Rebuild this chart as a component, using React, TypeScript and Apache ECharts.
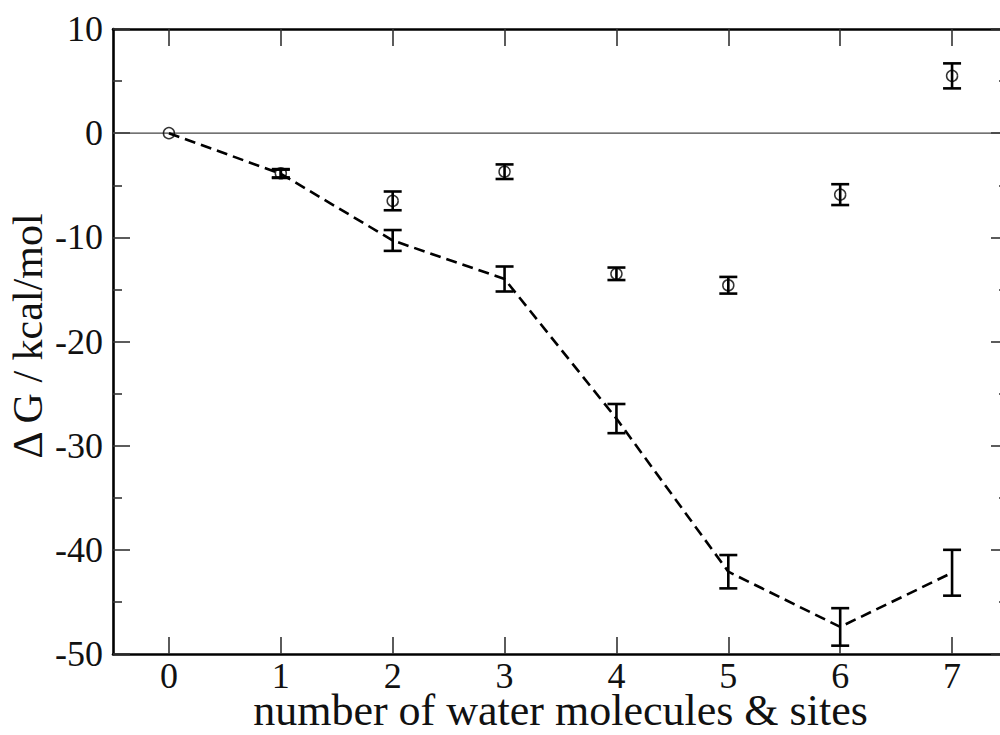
import React, { useEffect, useRef } from "react";
import * as echarts from "echarts";

const xValues = [0, 1, 2, 3, 4, 5, 6, 7];
const dashedValues = [0, -3.9, -10.3, -14.0, -27.4, -42.1, -47.4, -42.2];
const dashedErrors = [0, 0.4, 1.0, 1.2, 1.4, 1.6, 1.8, 2.2];
const circleValues = [0, -3.85, -6.5, -3.7, -13.5, -14.6, -5.9, 5.5];
const circleErrors = [0, 0.4, 0.9, 0.7, 0.6, 0.8, 1.0, 1.2];
const xTicks = [0, 1, 2, 3, 4, 5, 6, 7];
const yTicks = [10, 0, -10, -20, -30, -40, -50];
const xTitle = "number of water molecules & sites";
const yTitle = "Δ G / kcal/mol";

const FONT = "'Liberation Serif', 'Times New Roman', serif";

export default function App() {
  const ref = useRef<HTMLDivElement>(null);
  useEffect(() => {
    if (!ref.current) return;
    document.body.style.margin = "0";
    document.body.style.overflow = "hidden";
    const chart = echarts.init(ref.current, undefined, { renderer: "svg" });
    const errRender = (params: any, api: any) => {
      const x = api.value(0);
      const y = api.value(1);
      const e = api.value(2);
      if (!e) return null;
      const hi = api.coord([x, y + e]);
      const lo = api.coord([x, y - e]);
      const w = 9;
      const st = { stroke: "#000", lineWidth: 2.6 };
      return {
        type: "group",
        children: [
          { type: "line", shape: { x1: hi[0], y1: hi[1], x2: lo[0], y2: lo[1] }, style: st },
          { type: "line", shape: { x1: hi[0] - w, y1: hi[1], x2: hi[0] + w, y2: hi[1] }, style: st },
          { type: "line", shape: { x1: lo[0] - w, y1: lo[1], x2: lo[0] + w, y2: lo[1] }, style: st },
        ],
      };
    };
    const xMin = -0.5;
    const xMax = 7.5;
    const axisLine = { show: true, onZero: false, lineStyle: { color: "#000", width: 2.6 } };
    const tickStyle = { color: "#333", width: 1.6 };
    const option: any = {
      animation: false,
      backgroundColor: "#fff",
      grid: {
        left: 113,
        top: 29,
        width: 895,
        height: 625,
        containLabel: false,
        outerBoundsMode: "none",
      },
      xAxis: [
        {
          type: "value",
          position: "bottom",
          min: xMin,
          max: xMax,
          axisLine,
          axisTick: { show: true, inside: true, length: 17, lineStyle: tickStyle, customValues: xTicks },
          axisLabel: {
            show: true,
            fontFamily: FONT,
            fontSize: 36,
            lineHeight: 28,
            color: "#111",
            margin: 8,
            customValues: xTicks,
            formatter: (v: number) => String(v),
          },
          splitLine: { show: false },
          name: xTitle,
          nameLocation: "middle",
          nameGap: 38,
          nameMoveOverlap: false,
          nameTextStyle: { fontFamily: FONT, fontSize: 44, color: "#111", lineHeight: 36 },
        },
        {
          type: "value",
          position: "top",
          min: xMin,
          max: xMax,
          axisLine,
          axisTick: { show: true, inside: true, length: 17, lineStyle: tickStyle, customValues: xTicks },
          axisLabel: { show: false },
          splitLine: { show: false },
        },
      ],
      yAxis: [
        {
          type: "value",
          position: "left",
          min: -50,
          max: 10,
          interval: 10,
          axisLine,
          axisTick: { show: true, inside: true, length: 17, lineStyle: tickStyle },
          minorTick: { show: true, splitNumber: 2, length: 9, lineStyle: tickStyle },
          axisLabel: {
            show: true,
            fontFamily: FONT,
            fontSize: 36,
            color: "#111",
            margin: 10,
            formatter: (v: number) => (yTicks.includes(v) ? String(v) : ""),
          },
          splitLine: { show: false },
        },
        {
          type: "value",
          position: "right",
          min: -50,
          max: 10,
          interval: 10,
          axisLine,
          axisTick: { show: true, inside: true, length: 17, lineStyle: tickStyle },
          minorTick: { show: true, splitNumber: 2, length: 9, lineStyle: tickStyle },
          axisLabel: { show: false },
          splitLine: { show: false },
        },
      ],
      graphic: [
        {
          type: "text",
          x: 28,
          y: 336,
          rotation: Math.PI / 2,
          style: {
            text: yTitle,
            fontFamily: FONT,
            fontSize: 42,
            fill: "#111",
            align: "center",
            verticalAlign: "middle",
          },
        },
      ],
      series: [
        {
          type: "line",
          data: [
            [xMin, 0],
            [xMax, 0],
          ],
          symbol: "none",
          silent: true,
          lineStyle: { color: "#444", width: 1.4, type: "solid" },
          z: 1,
        },
        {
          type: "line",
          data: xValues.map((x, i) => [x, dashedValues[i]]),
          symbol: "none",
          lineStyle: { color: "#000", width: 2.6, type: [11, 6] },
          z: 2,
        },
        {
          type: "custom",
          data: xValues.map((x, i) => [x, dashedValues[i], dashedErrors[i]]),
          renderItem: errRender,
          z: 3,
        },
        {
          type: "custom",
          data: xValues.map((x, i) => [x, circleValues[i], circleErrors[i]]),
          renderItem: errRender,
          z: 3,
        },
        {
          type: "scatter",
          data: xValues.map((x, i) => [x, circleValues[i]]),
          symbol: "circle",
          symbolSize: 11,
          itemStyle: { color: "rgba(255,255,255,0)", borderColor: "#000", borderWidth: 1.5 },
          z: 4,
        },
      ],
    };
    chart.setOption(option);
    return () => chart.dispose();
  }, []);
  return (
    <div
      ref={ref}
      style={{ position: "fixed", left: 0, top: 0, width: 1000, height: 735, overflow: "hidden" }}
    />
  );
}
